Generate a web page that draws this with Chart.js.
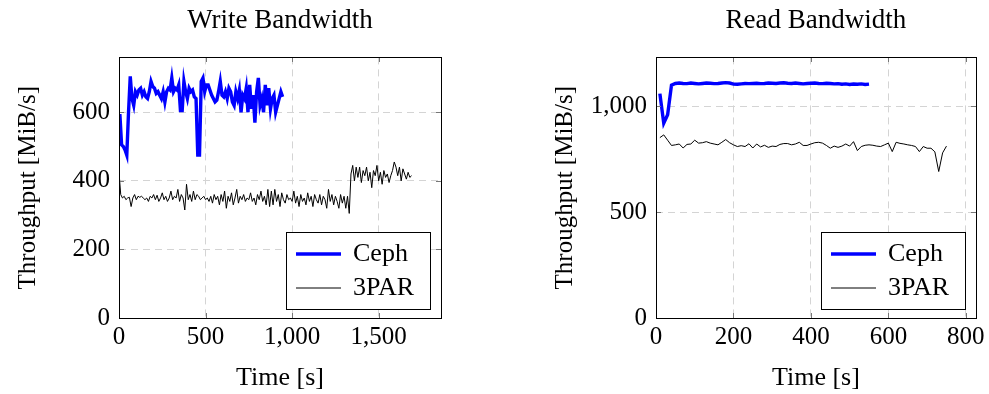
<!DOCTYPE html>
<html>
<head>
<meta charset="utf-8">
<script src="https://cdn.jsdelivr.net/npm/chart.js@4/dist/chart.umd.min.js"></script>
<style>
  html, body { margin: 0; padding: 0; background: #fff; }
  #wrap { position: relative; width: 989px; height: 394px; }
  .box { position: absolute; top: 0; height: 394px; }
</style>
</head>
<body>
<div id="wrap">
  <div class="box" style="left:0;width:494px"><canvas id="writeGraph"></canvas></div>
  <div class="box" style="left:494px;width:495px"><canvas id="readGraph"></canvas></div>
</div>
<script>
// write bandwidth, Ceph [MiB/s]
var writeCephTime = [5,15,25,35,45,55,65,75,85,95,
  105,115,125,135,145,155,165,175,185,195,
  205,215,225,235,245,255,265,275,285,295,
  305,315,325,335,345,355,365,375,385,395,
  405,415,425,435,445,455,465,475,485,495,
  505,515,525,535,545,555,565,575,585,595,
  605,615,625,635,645,655,665,675,685,695,
  705,715,725,735,745,755,765,775,785,795,
  805,815,825,835,845,855,865,875,885,895,
  905,915,925,935,945];
var writeCeph = [595,505,500,490,475,600,705,640,620,660,
  650,665,670,650,660,645,640,660,690,675,
  670,655,660,650,640,660,630,660,670,665,
  700,660,670,665,680,605,605,690,660,640,
  670,660,665,645,640,475,475,690,700,660,
  680,680,665,650,640,630,635,660,690,650,
  645,660,640,670,660,630,620,660,640,665,
  600,650,640,670,600,680,610,650,570,660,
  700,620,640,600,680,620,670,610,640,650,
  600,620,640,660,645];

// write bandwidth, 3PAR
var write3parTime = [0,10,20,30,40,50,60,70,80,90,
  100,110,120,130,140,150,160,170,180,190,
  200,210,220,230,240,250,260,270,280,290,
  300,310,320,330,340,350,360,370,380,390,
  400,410,420,430,440,450,460,470,480,490,
  500,510,520,530,540,550,560,570,580,590,
  600,610,620,630,640,650,660,670,680,690,
  700,710,720,730,740,750,760,770,780,790,
  800,810,820,830,840,850,860,870,880,890,
  900,910,920,930,940,950,960,970,980,990,
  1000,1010,1020,1030,1040,1050,1060,1070,1080,1090,
  1100,1110,1120,1130,1140,1150,1160,1170,1180,1190,
  1200,1210,1220,1230,1240,1250,1260,1270,1280,1290,
  1300,1310,1320,1330,1340,1350,1360,1370,1380,1390,
  1400,1410,1420,1430,1440,1450,1460,1470,1480,1490,
  1500,1510,1520,1530,1540,1550,1560,1570,1580,1590,
  1600,1610,1620,1630,1640,1650,1660,1670,1680,1690];
var write3par = [425,360,350,355,345,350,352,325,350,360,
  345,355,352,355,350,345,350,340,355,350,
  360,345,358,340,350,365,345,355,340,350,
  370,345,355,350,375,340,360,350,315,390,
  345,360,340,370,345,360,355,345,350,355,
  345,350,340,355,335,360,345,355,330,360,
  340,370,320,355,340,365,330,350,375,335,
  355,345,360,340,350,345,365,340,350,330,
  360,345,370,340,355,330,375,325,370,330,
  375,340,360,325,365,345,335,360,345,350,
  340,370,335,355,325,360,340,350,330,365,
  340,355,325,360,345,335,360,330,355,345,
  320,375,340,360,330,355,340,320,360,335,
  355,320,355,305,420,445,400,440,410,440,
  395,430,415,440,400,425,380,430,415,445,
  400,425,390,430,410,420,395,415,430,455,
  440,415,440,400,435,420,405,425,410,415];

// read bandwidth, Ceph
var readCephTime = [10,20,30,40,50,60,70,80,90,100,
  110,120,130,140,150,160,170,180,190,200,
  210,220,230,240,250,260,270,280,290,300,
  310,320,330,340,350,360,370,380,390,400,
  410,420,430,440,450,460,470,480,490,500,
  510,520,530,540,550];
var readCeph = [1060,920,960,1100,1108,1110,1108,1107,1110,1108,
  1106,1108,1110,1109,1107,1108,1110,1112,1110,1105,
  1104,1106,1108,1107,1108,1109,1107,1108,1110,1109,
  1108,1110,1111,1109,1108,1110,1108,1106,1108,1109,
  1110,1108,1107,1109,1108,1106,1107,1104,1106,1103,
  1105,1104,1106,1103,1105];

// read bandwidth, 3PAR
var read3parTime = [10,20,30,40,50,60,70,80,90,100,
  110,120,130,140,150,160,170,180,190,200,
  210,220,230,240,250,260,270,280,290,300,
  310,320,330,340,350,360,370,380,390,400,
  410,420,430,440,450,460,470,480,490,500,
  510,520,530,540,550,560,570,580,590,600,
  610,620,630,640,650,660,670,680,690,700,
  710,720,730,740,750];
var read3par = [852,865,840,815,818,822,803,820,822,840,
  826,828,833,826,822,818,830,843,828,818,
  810,814,810,823,803,822,808,816,806,812,
  810,820,824,824,818,822,830,815,815,822,
  828,830,826,815,802,812,806,812,822,812,
  833,791,810,816,818,816,812,810,818,826,
  786,830,825,822,818,815,810,786,810,802,
  802,785,692,780,812];

var xTicksWrite = [0, 500, 1000, 1500];
var yTicksWrite = [0, 200, 400, 600];
var xTicksRead = [0, 200, 400, 600, 800];
var yTicksRead = [0, 500, 1000];

Chart.defaults.font.family = '"Liberation Serif", "Times New Roman", serif';
Chart.defaults.font.size = 25;
Chart.defaults.color = '#000';

function points(t, v) {
    var out = [];
    for (var i = 0; i < t.length; i++) out.push({x: t[i], y: v[i]});
    return out;
}

// pgfplots style box, inward ticks and legend inside the plot
var boxPlugin = {
    id: 'boxPlugin',
    afterDraw: function(chart) {
        var ctx = chart.ctx, a = chart.chartArea;
        var xs = chart.scales.x, ys = chart.scales.y;
        var L = Math.round(a.left), R = Math.round(a.right), T = Math.round(a.top), B = Math.round(a.bottom);
        ctx.save();
        ctx.strokeStyle = '#777';
        ctx.lineWidth = 1;
        ctx.beginPath();
        xs.ticks.forEach(function(t) {
            var p = Math.round(xs.getPixelForValue(t.value)) + 0.5;
            ctx.moveTo(p, B); ctx.lineTo(p, B - 5);
            ctx.moveTo(p, T); ctx.lineTo(p, T + 5);
        });
        ys.ticks.forEach(function(t) {
            var p = Math.round(ys.getPixelForValue(t.value)) + 0.5;
            ctx.moveTo(L, p); ctx.lineTo(L + 5, p);
            ctx.moveTo(R, p); ctx.lineTo(R - 5, p);
        });
        ctx.stroke();
        ctx.strokeStyle = '#000';
        ctx.strokeRect(L + 0.5, T + 0.5, R - L, B - T);

        var w = 144, h = 77;
        var bx = R - 11 - w, by = B - 9 - h;
        ctx.fillStyle = '#fff';
        ctx.fillRect(bx, by, w, h);
        ctx.strokeRect(bx + 0.5, by + 0.5, w, h);
        ctx.font = '26px "Liberation Serif", serif';
        ctx.textBaseline = 'middle';
        ctx.textAlign = 'left';
        chart.data.datasets.forEach(function(ds, i) {
            var cy = by + 22 + i * 34;
            ctx.strokeStyle = ds.borderColor;
            ctx.lineWidth = ds.borderWidth;
            ctx.beginPath();
            ctx.moveTo(bx + 10, cy); ctx.lineTo(bx + 55, cy);
            ctx.stroke();
            ctx.fillStyle = '#000';
            ctx.fillText(ds.label, bx + 67, cy);
        });
        ctx.restore();
    }
};

function makeConfig(title, ceph, par, xMax, xTicks, yMax, yTicks, pad) {
    return {
        type: 'line',
        data: {
            datasets: [{
                label: 'Ceph',
                data: ceph,
                borderColor: '#0000ff',
                borderWidth: 3.4,
                pointRadius: 0,
                tension: 0,
                fill: false
            }, {
                label: '3PAR',
                data: par,
                borderColor: '#000',
                borderWidth: 1,
                pointRadius: 0,
                tension: 0,
                fill: false
            }]
        },
        options: {
            responsive: true,
            maintainAspectRatio: false,
            animation: false,
            layout: { padding: pad },
            plugins: {
                legend: { display: false },
                tooltip: { enabled: false },
                title: {
                    display: true,
                    text: title,
                    fullSize: false,
                    font: { size: 27, weight: 'normal' },
                    color: '#000',
                    padding: { top: 5, bottom: 20 }
                }
            },
            scales: {
                x: {
                    type: 'linear',
                    min: 0,
                    max: xMax,
                    afterFit: function(s) { s.height = 76; },
                    afterBuildTicks: function(s) { s.ticks = xTicks.map(function(v) { return {value: v}; }); },
                    ticks: {
                        padding: 4,
                        maxRotation: 0,
                        autoSkip: false,
                        callback: function(v) { return v.toLocaleString('en-US'); }
                    },
                    grid: { color: '#d4d4d4', drawTicks: false },
                    border: { display: false, dash: [7, 5] },
                    title: { display: true, text: 'Time [s]', font: { size: 26 }, padding: { top: 0, bottom: 0 } }
                },
                y: {
                    min: 0,
                    max: yMax,
                    afterFit: function(s) { s.width = 119; },
                    afterBuildTicks: function(s) { s.ticks = yTicks.map(function(v) { return {value: v}; }); },
                    ticks: {
                        padding: 9,
                        callback: function(v) { return v.toLocaleString('en-US'); }
                    },
                    grid: { color: '#d4d4d4', drawTicks: false },
                    border: { display: false, dash: [7, 5] },
                    title: { display: true, text: 'Throughput [MiB/s]', padding: { top: 13, bottom: 0 } }
                }
            }
        },
        plugins: [boxPlugin]
    };
}

var writeChart = new Chart(document.getElementById('writeGraph'),
    makeConfig('Write Bandwidth', points(writeCephTime, writeCeph), points(write3parTime, write3par),
        1860, xTicksWrite, 760, yTicksWrite, { left: 0, right: 53, top: 0, bottom: 0 }));

var readChart = new Chart(document.getElementById('readGraph'),
    makeConfig('Read Bandwidth', points(readCephTime, readCeph), points(read3parTime, read3par),
        826, xTicksRead, 1231, yTicksRead, { left: 43, right: 11, top: 0, bottom: 0 }));
</script>
</body>
</html>
